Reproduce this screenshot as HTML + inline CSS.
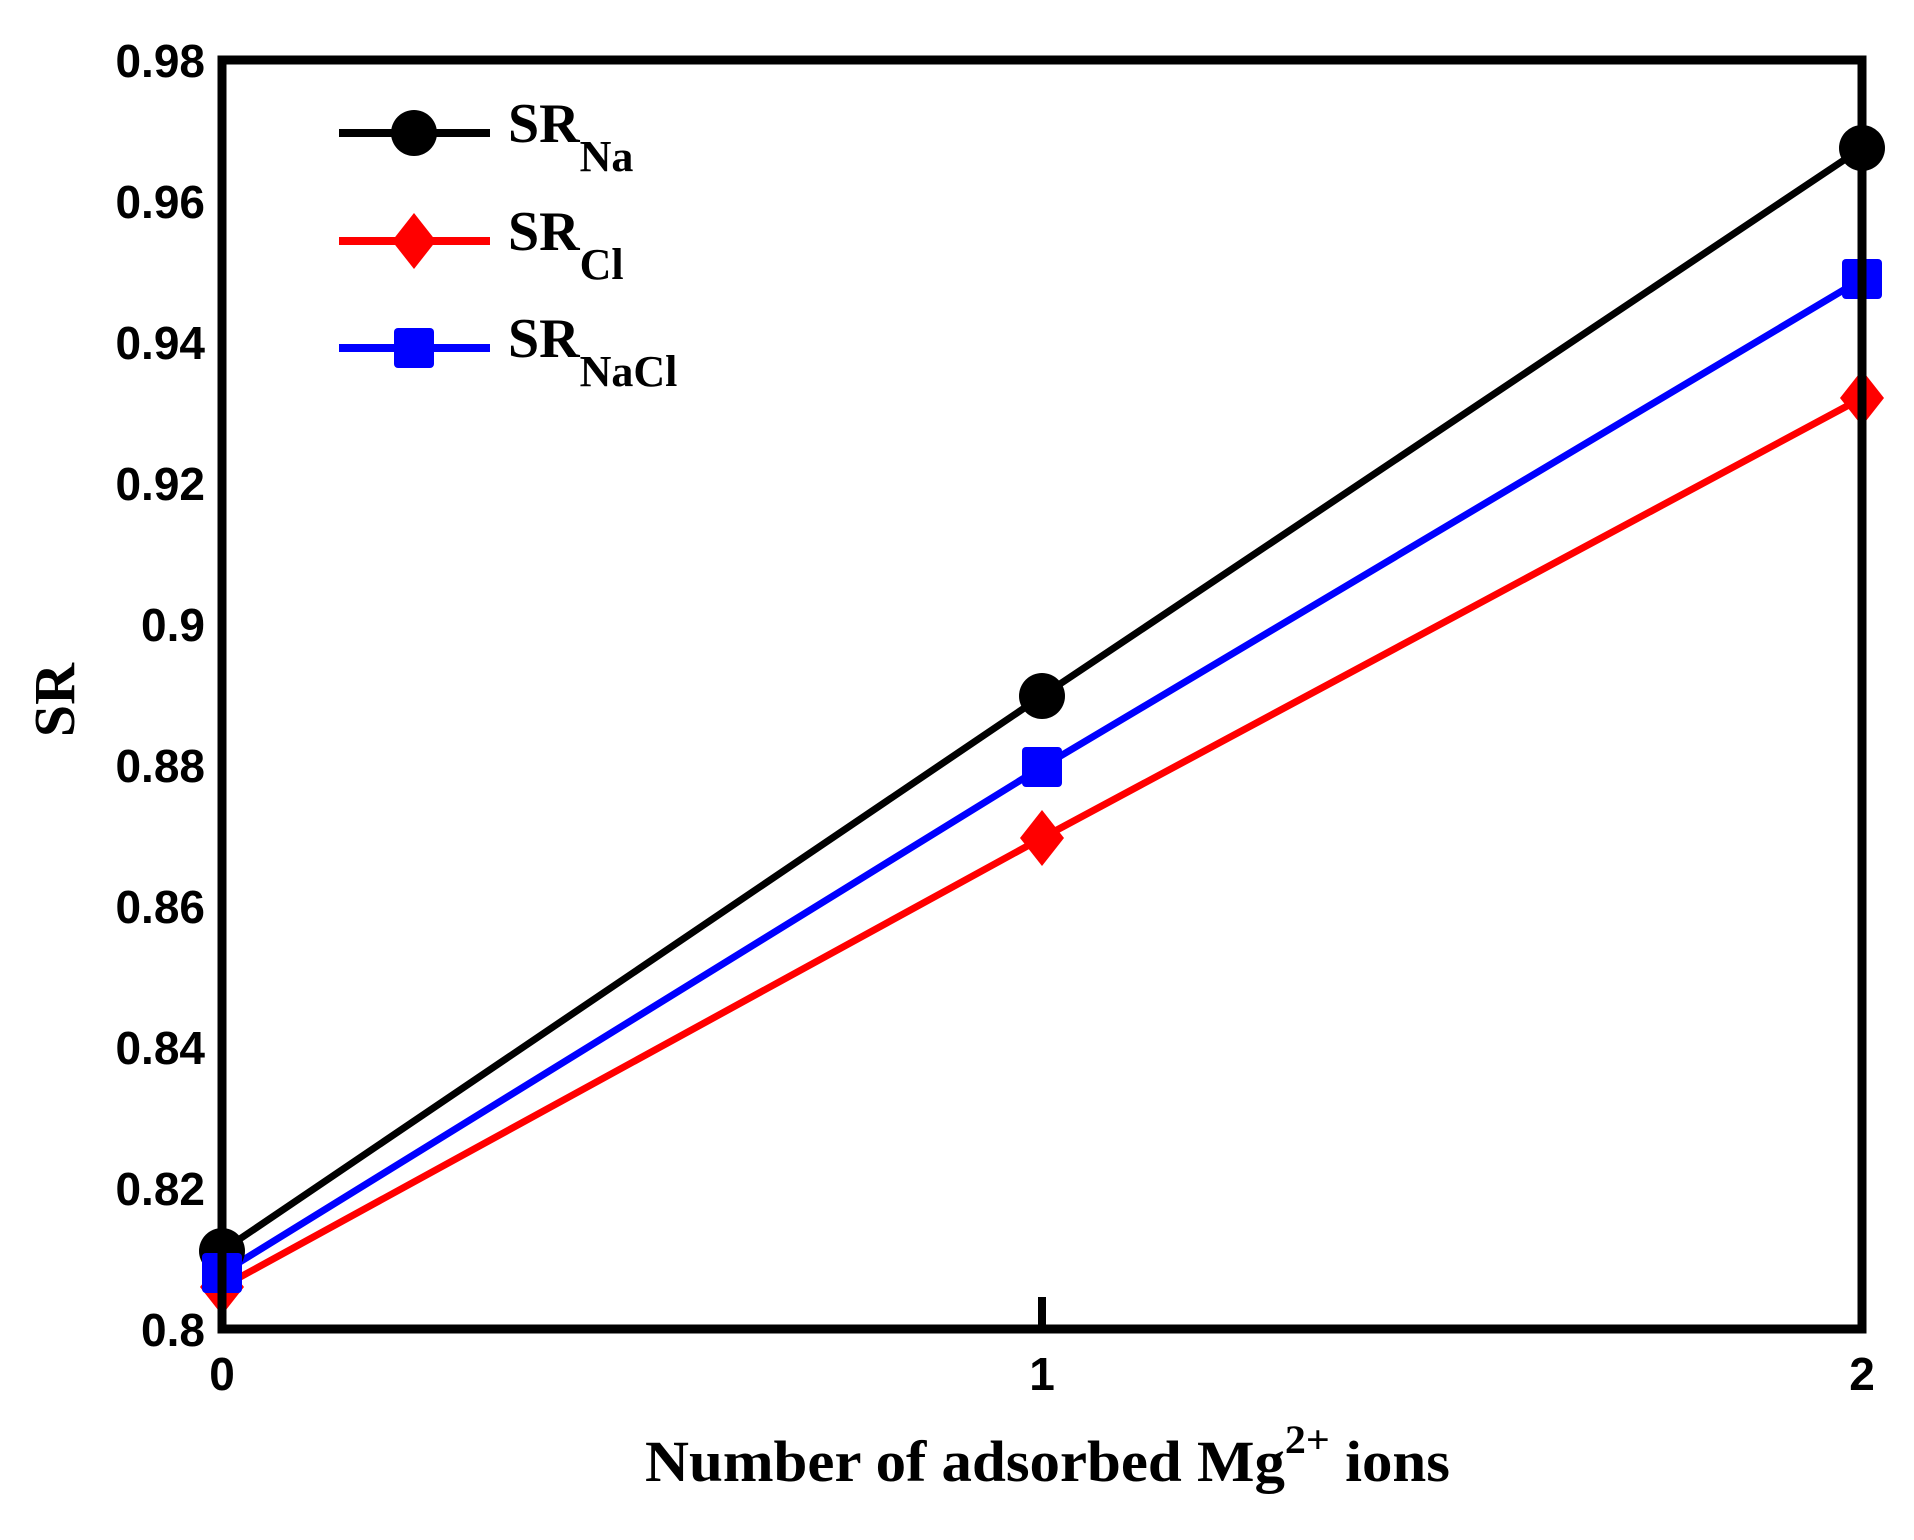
<!DOCTYPE html>
<html><head><style>html,body{margin:0;padding:0;background:#fff}</style></head>
<body>
<svg width="1914" height="1535" viewBox="0 0 1914 1535" xmlns="http://www.w3.org/2000/svg">
<g font-family="Liberation Sans, Arial, sans-serif" font-weight="bold" font-size="46" fill="#000" text-anchor="end">
<text x="205" y="77">0.98</text>
<text x="205" y="218">0.96</text>
<text x="205" y="359">0.94</text>
<text x="205" y="500">0.92</text>
<text x="205" y="641">0.9</text>
<text x="205" y="782">0.88</text>
<text x="205" y="923">0.86</text>
<text x="205" y="1064">0.84</text>
<text x="205" y="1205">0.82</text>
<text x="205" y="1346">0.8</text>
</g>
<g font-family="Liberation Sans, Arial, sans-serif" font-weight="bold" font-size="46" fill="#000" text-anchor="middle">
<text x="222" y="1390">0</text>
<text x="1042" y="1390">1</text>
<text x="1862" y="1390">2</text>
</g>
<line x1="1042" y1="1329" x2="1042" y2="1297" stroke="#000" stroke-width="8"/>
<polyline points="222,1251 1042,696 1862,148" fill="none" stroke="#000" stroke-width="7"/>
<polyline points="222,1287 1042,838 1862,398" fill="none" stroke="#ff0000" stroke-width="7"/>
<polyline points="222,1273 1042,767 1862,279" fill="none" stroke="#0000ff" stroke-width="7"/>
<circle cx="222" cy="1251" r="23" fill="#000"/>
<circle cx="1042" cy="696" r="23" fill="#000"/>
<circle cx="1862" cy="148" r="23" fill="#000"/>
<polygon points="222,1259 244,1287 222,1315 200,1287" fill="#ff0000"/>
<polygon points="1042,810 1064,838 1042,866 1020,838" fill="#ff0000"/>
<polygon points="1862,370 1884,398 1862,426 1840,398" fill="#ff0000"/>
<rect x="202" y="1253" width="40" height="40" rx="4" fill="#0000ff"/>
<rect x="1022" y="747" width="40" height="40" rx="4" fill="#0000ff"/>
<rect x="1842" y="259" width="40" height="40" rx="4" fill="#0000ff"/>
<rect x="222" y="60" width="1640" height="1269" fill="none" stroke="#000" stroke-width="9"/>
<line x1="339" y1="133" x2="490" y2="133" stroke="#000" stroke-width="8"/>
<circle cx="414" cy="133" r="23" fill="#000"/>
<line x1="339" y1="241" x2="490" y2="241" stroke="#ff0000" stroke-width="8"/>
<polygon points="414,213 436,241 414,269 392,241" fill="#ff0000"/>
<line x1="339" y1="348" x2="490" y2="348" stroke="#0000ff" stroke-width="8"/>
<rect x="394" y="328" width="40" height="40" rx="4" fill="#0000ff"/>
<g font-family="Liberation Serif, Times New Roman, serif" font-weight="bold" fill="#000">
<text x="508" y="142" font-size="56">SR<tspan font-size="44" dy="29">Na</tspan></text>
<text x="508" y="250" font-size="56">SR<tspan font-size="44" dy="29">Cl</tspan></text>
<text x="508" y="357" font-size="56">SR<tspan font-size="44" dy="29">NaCl</tspan></text>
<text x="645" y="1481" font-size="58" textLength="805" lengthAdjust="spacingAndGlyphs">Number of adsorbed Mg<tspan font-size="40" dy="-28">2+</tspan><tspan dy="28"> ions</tspan></text>
<text transform="translate(74,700) rotate(-90)" font-size="58" text-anchor="middle">SR</text>
</g>
</svg>
</body></html>
